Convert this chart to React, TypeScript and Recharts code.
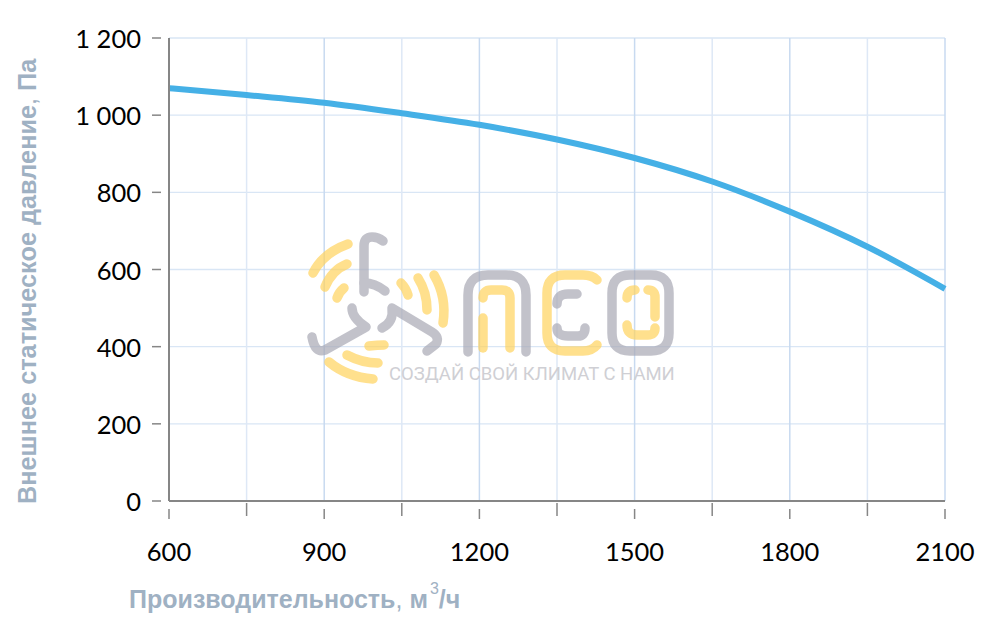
import React from 'react';
import { ComposedChart, Line, XAxis, YAxis, CartesianGrid, ReferenceLine, Label } from 'recharts';

const flowValues = [600, 750, 900, 1050, 1200, 1350, 1500, 1650, 1800, 1950, 2100];
const pressureValues = [1070, 1052, 1032, 1005, 975, 937, 889, 828, 750, 659, 550];
const xTicks = [600, 750, 900, 1050, 1200, 1350, 1500, 1650, 1800, 1950, 2100];
const yTicks = [0, 200, 400, 600, 800, 1000, 1200];
const majorFlow = [900, 1200, 1500, 1800, 2100];
const minorFlow = [750, 1050, 1350, 1650, 1950];

const chartData = flowValues.map((flow, i) => ({ flow, pressure: pressureValues[i] }));

const TICK_FONT = 'Lato, sans-serif';
const TITLE_FONT = '"Liberation Sans", Arial, sans-serif';
const TITLE_COLOR = '#9fb1c3';
const AXIS_COLOR = '#868686';

const XTick = ({ x, y, payload }: any) => {
  const major = (payload.value - 600) % 300 === 0;
  return (
    <g>
      <line
        x1={x}
        x2={x}
        y1={major ? y : y - 6}
        y2={y + (major ? 10 : 7)}
        stroke={AXIS_COLOR}
        strokeWidth={1.5}
      />
      {major && (
        <text x={x} y={y + 52} textAnchor="middle" fontFamily={TICK_FONT} fontSize={25.5} fill="#000">
          {payload.value}
        </text>
      )}
    </g>
  );
};

const YTick = ({ x, y, payload }: any) => (
  <g>
    <line x1={x - 9} x2={x} y1={y} y2={y} stroke={AXIS_COLOR} strokeWidth={1.5} />
    <text x={x - 20} y={y + 10} textAnchor="end" fontFamily={TICK_FONT} fontSize={25.5} fill="#000">
      {payload.value >= 1000
        ? `${Math.floor(payload.value / 1000)} ${String(payload.value % 1000).padStart(3, '0')}`
        : payload.value}
    </text>
  </g>
);

const XTitle = () => (
  <text x={129} y={608} fontFamily={TITLE_FONT} fontSize={25} fontWeight={700} fill={TITLE_COLOR}>
    Производительность<tspan fontWeight={400}>,</tspan> м
    <tspan dx={2} dy={-14} fontSize={16} fontWeight={400}>3</tspan>
    <tspan dy={14}>/ч</tspan>
  </text>
);

const YTitle = () => (
  <text
    transform="translate(36, 504) rotate(-90)"
    fontFamily={TITLE_FONT}
    fontSize={25.3}
    fontWeight={700}
    fill={TITLE_COLOR}
  >
    Внешнее статическое давление<tspan fontWeight={400}>,</tspan> Па
  </text>
);

// watermark sits over the grid, drawn as a flat page overlay
const Watermark = () => {
  const yellow = '#ffd35e';
  const grey = '#a9a9b5';
  return (
    <svg width={988} height={620} style={{ position: 'absolute', left: 0, top: 0, pointerEvents: 'none' }}>
      <g fill="none" strokeLinecap="round" strokeLinejoin="round" strokeWidth={9.5} opacity={0.7}>
        <g stroke={grey}>
          <path d="M383 241 Q378 237 372 237 Q364 237 364 246 L364 292" />
          <path d="M364 283 Q375 283 385 291" />
          <path d="M352 308 Q352 318 366 327 L325 350 Q315 354 312 337" />
          <path d="M382 328 Q394 322 392 308 L432 332 Q440 337 436 344 L427 351" />
          <path d="M468 352 L468 295 Q468 275 488 275 L506 275 Q526 275 526 295 L526 352" />
          <path d="M577 294 L568 294 Q557 294 557 304" />
          <path d="M557 328 Q557 336 568 336 L578 336 Q585 336 585 328" />
          <path d="M630 275 L651 275 Q669 275 669 293 L669 333 Q669 351 651 351 L630 351 Q612 351 612 333 L612 293 Q612 275 630 275 Z" />
        </g>
        <g stroke={yellow}>
          <path d="M313 273 Q323 253 348 244" />
          <path d="M325 287 Q332 270 347 264" />
          <path d="M337 298 Q339 292 344 288" />
          <path d="M401 283 Q406 288 408 295" />
          <path d="M418 278 Q427 292 427 310" />
          <path d="M434 275 Q447 297 443 323" />
          <path d="M369 346 Q378 345 384 345" />
          <path d="M347 355 Q362 363 378 363" />
          <path d="M329 362 Q347 377 373 379" />
          <path d="M483 318 L483 348" />
          <path d="M483 298 Q483 290 491 290 L502 290 Q510 290 510 298 L510 348" />
          <path d="M597 280 Q592 275 583 275 L565 275 Q547 275 547 293 L547 333 Q547 351 565 351 L583 351 Q592 351 597 345" />
          <path d="M627 298 Q627 290 635 290" />
          <path d="M648 290 Q655 290 655 297 L655 317" />
          <path d="M627 325 Q627 335 637 335 L648 335 Q655 335 655 328" />
        </g>
      </g>
      <text x={389} y={380} fontFamily="Roboto, sans-serif" fontSize={18.5} fill="#cfcfd4">
        СОЗДАЙ СВОЙ КЛИМАТ С НАМИ
      </text>
    </svg>
  );
};

export default function App() {
  return (
    <div style={{ position: 'absolute', left: 0, top: 0, width: 988, height: 620, background: '#fff' }}>
      <ComposedChart
        width={988}
        height={620}
        data={chartData}
        margin={{ top: 38, right: 43, bottom: 0, left: 0 }}
      >
        <CartesianGrid horizontal stroke="#d9e6f5" strokeWidth={1.3} vertical={false} />
        {minorFlow.map((v) => (
          <ReferenceLine key={v} x={v} stroke="#dee8f6" strokeWidth={1.5} />
        ))}
        {majorFlow.map((v) => (
          <ReferenceLine key={v} x={v} stroke="#c8daf0" strokeWidth={1.5} />
        ))}
        <XAxis
          dataKey="flow"
          type="number"
          domain={[600, 2100]}
          ticks={xTicks}
          height={119}
          interval={0}
          axisLine={{ stroke: AXIS_COLOR, strokeWidth: 2 }}
          tickLine={false}
          tick={<XTick />}
        >
          <Label content={<XTitle />} />
        </XAxis>
        <YAxis
          type="number"
          domain={[0, 1200]}
          ticks={yTicks}
          width={169}
          interval={0}
          axisLine={{ stroke: AXIS_COLOR, strokeWidth: 2 }}
          tickLine={false}
          tick={<YTick />}
        >
          <Label content={<YTitle />} />
        </YAxis>
        <Line
          dataKey="pressure"
          type="monotone"
          stroke="#45b0e6"
          strokeWidth={6}
          dot={false}
          isAnimationActive={false}
        />
      </ComposedChart>
      <Watermark />
    </div>
  );
}
